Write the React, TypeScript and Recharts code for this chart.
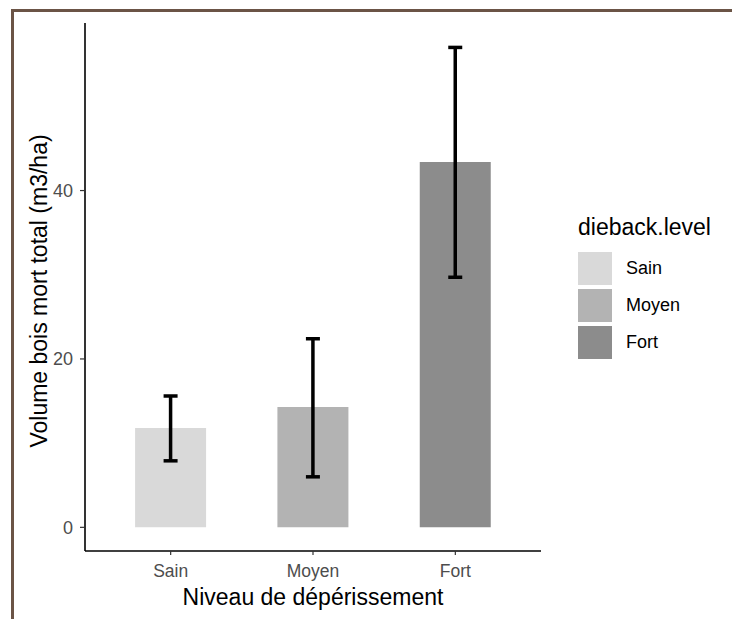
import { BarChart, Bar, XAxis, YAxis, Cell, ErrorBar } from 'recharts';

// Dead wood volume by dieback level (mean with error bar bounds)
const LEVELS = ['Sain', 'Moyen', 'Fort'];
const MEANS = [11.8, 14.3, 43.4];
const LOWER = [7.9, 6.0, 29.7];
const UPPER = [15.6, 22.4, 57.0];
const COLORS = ['#d9d9d9', '#b3b3b3', '#8c8c8c'];
const Y_TICKS = [0, 20, 40];

const data = LEVELS.map((level, i) => ({
  level,
  volume: MEANS[i],
  err: [MEANS[i] - LOWER[i], UPPER[i] - MEANS[i]],
}));

const FONT = '"Liberation Sans", Arial, sans-serif';

function XTitle(props: any) {
  const { viewBox } = props;
  return (
    <text
      x={viewBox.x + viewBox.width / 2}
      y={viewBox.y + 54}
      textAnchor="middle"
      fontFamily={FONT}
      fontSize={23}
      fill="#000"
    >
      Niveau de dépérissement
    </text>
  );
}

function YTitle(props: any) {
  const { viewBox } = props;
  const x = viewBox.x + 47;
  const y = viewBox.y + viewBox.height / 2 + 4;
  return (
    <text
      x={x}
      y={y}
      transform={`rotate(-90, ${x}, ${y})`}
      textAnchor="middle"
      fontFamily={FONT}
      fontSize={23}
      fill="#000"
    >
      Volume bois mort total (m3/ha)
    </text>
  );
}

export default function App() {
  return (
    <div style={{ position: 'absolute', left: 0, top: 0, width: 732, height: 619, background: '#fff' }}>
      <div
        style={{
          position: 'absolute',
          left: 11,
          top: 9,
          right: 0,
          bottom: 0,
          borderTop: '3px solid #6b5446',
          borderLeft: '3px solid #6b5446',
        }}
      />
      <div style={{ position: 'absolute', left: 0, top: 0 }}>
        <BarChart
          width={732}
          height={619}
          data={data}
          margin={{ top: 23, left: 0, right: 191, bottom: 0 }}
          barCategoryGap="25%"
        >
          <XAxis
            dataKey="level"
            height={68}
            padding={{ left: 14.5, right: 14.5 }}
            axisLine={{ stroke: '#000', strokeWidth: 1.6 }}
            tickLine={{ stroke: '#333', strokeWidth: 1.2 }}
            tickSize={4}
            tickMargin={10}
            tick={{ fill: '#4d4d4d', fontSize: 17.5, fontFamily: FONT }}
            label={<XTitle />}
          />
          <YAxis
            width={85}
            domain={[-2.81, 59.9]}
            ticks={Y_TICKS}
            allowDataOverflow
            axisLine={{ stroke: '#000', strokeWidth: 1.6 }}
            tickLine={{ stroke: '#333', strokeWidth: 1.2 }}
            tickSize={5}
            tickMargin={7}
            tick={{ fill: '#4d4d4d', fontSize: 18, fontFamily: FONT }}
            label={<YTitle />}
          />
          <Bar dataKey="volume" isAnimationActive={false}>
            {data.map((d, i) => (
              <Cell key={d.level} fill={COLORS[i]} />
            ))}
            <ErrorBar dataKey="err" width={7} stroke="#000" strokeWidth={3.5} isAnimationActive={false} />
          </Bar>
        </BarChart>
      </div>
      {/* legend */}
      <div style={{ position: 'absolute', left: 578, top: 213, fontFamily: FONT }}>
        <div style={{ fontSize: 23, color: '#000', lineHeight: '28px', marginBottom: 9 }}>dieback.level</div>
        {LEVELS.map((level, i) => (
          <div key={level} style={{ display: 'flex', alignItems: 'center', height: 37 }}>
            <div style={{ width: 34, height: 33, background: COLORS[i] }} />
            <span style={{ marginLeft: 14, fontSize: 18, color: '#000' }}>{level}</span>
          </div>
        ))}
      </div>
    </div>
  );
}
